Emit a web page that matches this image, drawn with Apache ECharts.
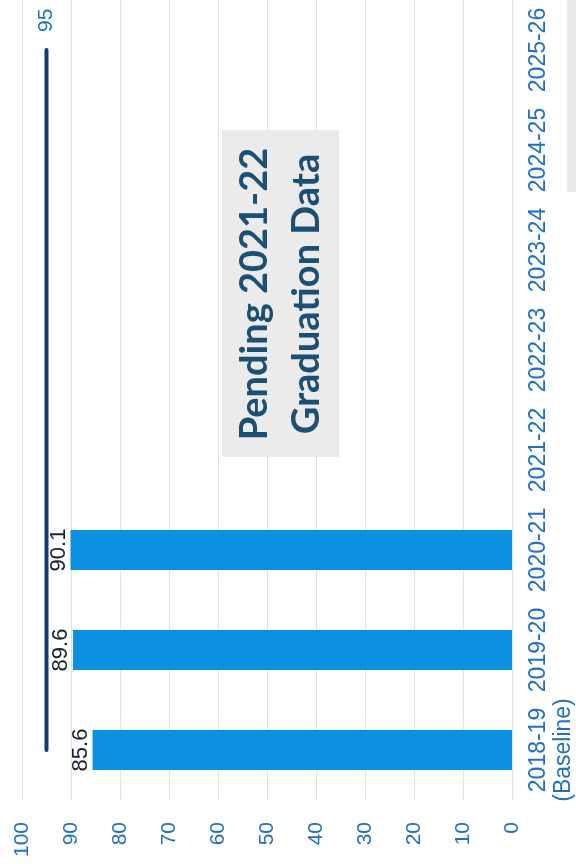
<!DOCTYPE html>
<html>
<head>
<meta charset="utf-8">
<script src="https://cdn.jsdelivr.net/npm/echarts@6/dist/echarts.min.js"></script>
<style>
  html, body { margin: 0; padding: 0; background: #ffffff; }
  #chart { width: 576px; height: 864px; }
</style>
</head>
<body>
<div id="chart"></div>
<script>
// School years on the category axis (first one is the baseline year)
const years = ['2018-19\n(Baseline)', '2019-20', '2020-21', '2021-22', '2022-23', '2023-24', '2024-25', '2025-26'];
// Graduation rate per year ('-' = not yet available)
const gradRate = [85.6, 89.6, 90.1, '-', '-', '-', '-', '-'];
// Target rate carried across all years
const targetRate = [95, 95, 95, 95, 95, 95, 95, 95];
// Value axis range
const valueMin = 0, valueMax = 100, valueStep = 10;
const pendingNote = 'Pending 2021-22\nGraduation Data';

const chart = echarts.init(document.getElementById('chart'), null, { renderer: 'canvas' });

const blueText = '#1f70c1';

// Target line: only the last year carries a value label
const targetData = targetRate.map((v, i) => ({
  value: v,
  label: { show: i === targetRate.length - 1 }
}));

chart.setOption({
  backgroundColor: '#ffffff',
  animation: false,
  grid: { left: 22, right: 59.5, top: 0, bottom: 64, containLabel: false },
  xAxis: {
    type: 'value',
    inverse: true,
    min: valueMin,
    max: valueMax,
    interval: valueStep,
    position: 'bottom',
    axisLine: { show: false },
    axisTick: { show: false },
    splitLine: { show: true, lineStyle: { color: '#dde3ec', width: 1 } },
    axisLabel: {
      rotate: 90,
      margin: 22,
      color: blueText,
      fontFamily: 'Liberation Sans',
      fontSize: 21
    }
  },
  yAxis: {
    type: 'category',
    data: years,
    position: 'right',
    axisLine: { show: false },
    axisTick: { show: false },
    splitLine: { show: false },
    axisLabel: {
      interval: 0,
      rotate: 90,
      margin: 14,
      color: blueText,
      fontFamily: 'Liberation Sans',
      fontSize: 23,
      lineHeight: 25
    }
  },
  series: [
    {
      type: 'bar',
      data: gradRate,
      barWidth: 40,
      itemStyle: { color: '#0b8fdf' },
      z: 3,
      label: {
        show: true,
        position: 'left',
        distance: 1,
        rotate: 90,
        align: 'center',
        verticalAlign: 'bottom',
        color: '#17212f',
        fontFamily: 'Liberation Sans',
        fontSize: 22
      }
    },
    {
      type: 'line',
      data: targetData,
      symbol: 'circle',
      symbolSize: 0,
      showSymbol: true,
      itemStyle: { color: '#143d6d' },
      z: 2,
      lineStyle: { color: '#143d6d', width: 4, cap: 'round' },
      label: {
        position: 'top',
        distance: 18,
        rotate: 90,
        align: 'left',
        verticalAlign: 'middle',
        color: blueText,
        fontFamily: 'Liberation Sans',
        fontSize: 21
      }
    }
  ],
  graphic: [
    {
      type: 'rect',
      shape: { x: 222, y: 130, width: 117, height: 327 },
      style: { fill: '#ebebeb' },
      z: 5
    },
    {
      type: 'text',
      x: 281,
      y: 294,
      rotation: Math.PI / 2,
      style: {
        text: pendingNote,
        align: 'center',
        verticalAlign: 'middle',
        fill: '#1b4f74',
        font: 'bold 38px Lato',
        lineHeight: 52
      },
      z: 6
    },
    {
      type: 'rect',
      shape: { x: 567, y: 0, width: 9, height: 192 },
      style: { fill: '#e8e8e8' },
      z: 5
    }
  ]
});
</script>
</body>
</html>
